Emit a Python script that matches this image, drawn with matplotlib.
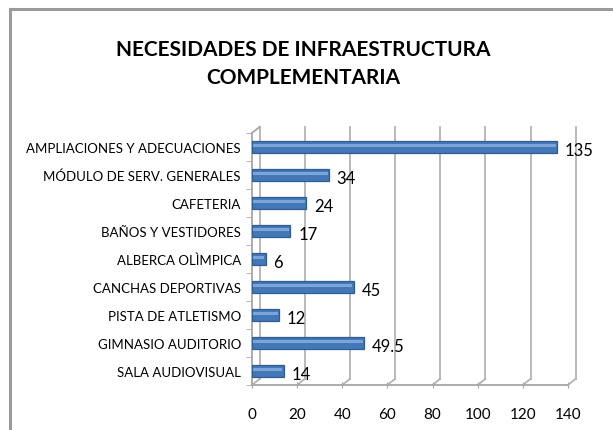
import matplotlib
matplotlib.use("Agg")
import matplotlib.pyplot as plt
import numpy as np

categories = ["AMPLIACIONES Y ADECUACIONES", "MÓDULO DE SERV. GENERALES", "CAFETERIA",
              "BAÑOS Y VESTIDORES", "ALBERCA OLÌMPICA", "CANCHAS DEPORTIVAS",
              "PISTA DE ATLETISMO", "GIMNASIO AUDITORIO", "SALA AUDIOVISUAL"]
values = [135, 34, 24, 17, 6, 45, 12, 49.5, 14]
value_labels = ["135", "34", "24", "17", "6", "45", "12", "49.5", "14"]
xticks = [0, 20, 40, 60, 80, 100, 120, 140]
title = "NECESIDADES DE INFRAESTRUCTURA\nCOMPLEMENTARIA"

plt.rcParams['font.family'] = ['Lato', 'DejaVu Sans']

W, H = 613, 431
fig = plt.figure(figsize=(W / 100, H / 100), dpi=100)
fig.patch.set_facecolor('white')

# chart frame (left and top edges visible)
fig.add_artist(plt.Line2D([10 / W, 10 / W], [0, 1 - 10 / H], color='#9a9a9a', lw=2.2,
                          transform=fig.transFigure))
fig.add_artist(plt.Line2D([10 / W, 1], [1 - 10 / H, 1 - 10 / H], color='#9a9a9a', lw=2.2,
                          transform=fig.transFigure))

fig.text(303 / W, 1 - 64 / H, title, ha='center', va='center', fontsize=15,
         fontweight='bold', linespacing=1.55, color='black')

ax = fig.add_axes([252 / W, 1 - 386 / H, (568 - 252) / W, (386 - 134) / H])
n = len(categories)
y = np.arange(n)[::-1]

ax.set_xlim(0, 140)
ax.set_ylim(-0.5, n - 0.5)

# 3D-like gridlines (back wall offset)
dx, dy = 3.4, 0.22
for t in xticks:
    ax.plot([t, t + dx], [-0.5, -0.5 + dy], color='#b3b3b3', lw=1.3, clip_on=False, zorder=1)
    ax.plot([t + dx, t + dx], [-0.5 + dy, n - 0.5 + dy], color='#b3b3b3', lw=1.3,
            clip_on=False, zorder=1)
# floor line and left wall
ax.plot([0, 140], [-0.5, -0.5], color='#a6a6a6', lw=1.3, clip_on=False, zorder=2)
ax.plot([0, 0], [-0.5, n - 0.5], color='#a6a6a6', lw=1.3, clip_on=False, zorder=2)
ax.plot([0, dx], [n - 0.5, n - 0.5 + dy], color='#a6a6a6', lw=1.3, clip_on=False, zorder=2)

# bars
bh = 0.4
ax.barh(y, values, height=bh, color='#4477b8', edgecolor='#2f5c92', linewidth=0.9, zorder=3)
ax.barh(y + bh * 0.12, [v - 1.0 for v in values], left=0.5, height=bh * 0.3,
        color='#7ba5d9', linewidth=0, zorder=4)

for yi, v, lab in zip(y, values, value_labels):
    ax.text(v + 3.5, yi - 0.1, lab, va='center', ha='left', fontsize=12, color='black', zorder=5)

ax.set_yticks(y)
ax.set_yticklabels(categories, fontsize=9.5)
ax.set_xticks(xticks)
ax.set_xticklabels([str(t) for t in xticks], fontsize=11)
ax.tick_params(axis='y', length=4, color='#a6a6a6', pad=8)
ax.tick_params(axis='x', length=5, color='#a6a6a6', pad=13, direction='inout')
ax.set_yticks(np.arange(-0.5, n, 1.0), minor=True)
ax.tick_params(axis='y', which='minor', length=4, color='#a6a6a6')
ax.tick_params(axis='y', which='major', length=0)
for s in ax.spines.values():
    s.set_visible(False)
ax.patch.set_alpha(0)

fig.savefig('out.png', dpi=100, facecolor='white')
